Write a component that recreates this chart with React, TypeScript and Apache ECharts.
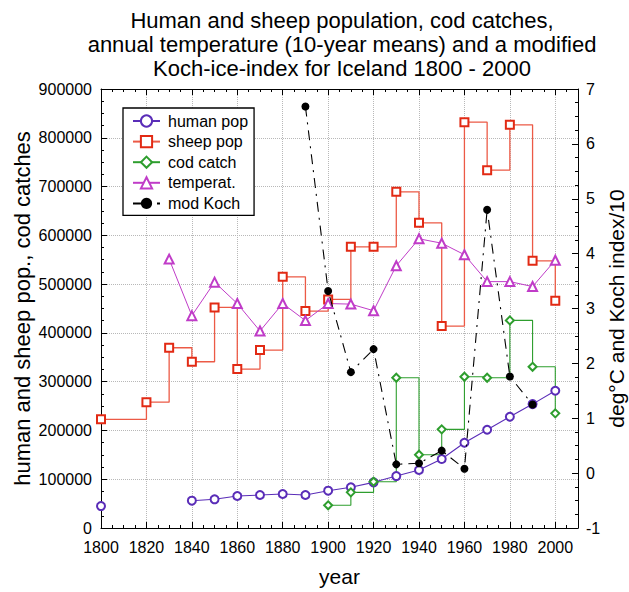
import React, { useEffect, useRef } from "react";
import * as echarts from "echarts";

const FONT = "'Liberation Sans', Arial, Helvetica, sans-serif";

const titleLines = [
  "Human and sheep population, cod catches,",
  "annual temperature (10-year means) and a modified",
  "Koch-ice-index for Iceland 1800 - 2000",
];

const decades = [1800, 1810, 1820, 1830, 1840, 1850, 1860, 1870, 1880, 1890, 1900, 1910, 1920, 1930, 1940, 1950, 1960, 1970, 1980, 1990, 2000];

const humanPop = [45000, null, null, null, 56000, 58800, 65600, 67600, 69700, 67600, 76500, 83400, 93600, 106500, 118900, 141400, 174800, 201400, 228100, 254000, 281400];

const sheepPop = [222700, null, 258000, 369500, 340800, 452200, 325800, 364800, 515000, 444700, 468600, 576400, 576400, 689200, 625600, 413900, 832000, 733600, 826500, 547700, 465800];

const codYears = [1900, 1910, 1920, 1930, 1940, 1950, 1960, 1970, 1980, 1990, 2000];
const codCatch = [46500, 73100, 94900, 308000, 150200, 202200, 310000, 308000, 425600, 330500, 235000];

const tempYears = [1830, 1840, 1850, 1860, 1870, 1880, 1890, 1900, 1910, 1920, 1930, 1940, 1950, 1960, 1970, 1980, 1990, 2000];
const temperature = [3.9, 2.87, 3.48, 3.09, 2.59, 3.09, 2.78, 3.09, 3.08, 2.96, 3.78, 4.27, 4.19, 3.98, 3.49, 3.49, 3.4, 3.88];

const kochYears = [1890, 1900, 1910, 1920, 1930, 1940, 1950, 1960, 1970, 1980, 1990];
const kochIndex = [6.68, 3.32, 1.84, 2.26, 0.16, 0.18, 0.41, 0.08, 4.8, 1.76, 1.25];

const pairs = (xs: number[], ys: (number | null)[]) => xs.map((x, i) => [x, ys[i]]);

export default function App() {
  const ref = useRef<HTMLDivElement>(null);
  useEffect(() => {
    if (!ref.current) return;
    const chart = echarts.init(ref.current, null, { renderer: "svg" });
    const axisLine = { show: true, onZero: false, lineStyle: { color: "#000", width: 1 } };
    const axisTick = { show: true, inside: true, length: 6, lineStyle: { color: "#000", width: 1 } };
    const minorTick = { show: true, splitNumber: 4, length: 3, lineStyle: { color: "#000", width: 1 } };
    const labelStyle = { color: "#000", fontSize: 16, fontFamily: FONT };
    const grid = { show: true, lineStyle: { color: "#b8b8b8", type: "dotted", width: 1 } };
    chart.setOption({
      animation: false,
      backgroundColor: "#fff",
      textStyle: { fontFamily: FONT },
      graphic: [
        {
          type: "text",
          x: 342,
          y: 8,
          z: 10,
          style: {
            text: titleLines.join("\n"),
            align: "center",
            verticalAlign: "top",
            fontSize: 22,
            lineHeight: 24,
            fontFamily: FONT,
            fill: "#000",
          },
        },
      ],
      grid: { left: 101, right: 51, top: 89, bottom: 64, containLabel: false, outerBoundsMode: "none" },
      legend: {
        orient: "vertical",
        left: 123,
        top: 108,
        padding: [5, 6, 4, 9],
        itemGap: 4.6,
        itemWidth: 27,
        itemHeight: 14,
        borderColor: "#000",
        borderWidth: 1.3,
        backgroundColor: "#fff",
        textStyle: { fontSize: 16, color: "#000", fontFamily: FONT, padding: [0, 0, 0, 3] },
        data: ["human pop", "sheep pop", "cod catch", "temperat.", "mod Koch"],
      },
      xAxis: [
        {
          type: "value",
          position: "bottom",
          min: 1800,
          max: 2010,
          interval: 20,
          axisLine,
          axisTick,
          minorTick,
          splitLine: grid,
          axisLabel: {
            ...labelStyle,
            margin: 11,
            formatter: (v: number) => (v % 20 === 0 && v <= 2000 ? String(v) : ""),
          },
          name: "year",
          nameLocation: "middle",
          nameGap: 38,
          nameMoveOverlap: false,
          nameTextStyle: { fontSize: 21, color: "#000", fontFamily: FONT },
        },
        {
          type: "value",
          position: "top",
          min: 1800,
          max: 2010,
          interval: 20,
          axisLine,
          axisTick,
          minorTick,
          splitLine: { show: false },
          axisLabel: { show: false },
        },
      ],
      yAxis: [
        {
          type: "value",
          position: "left",
          min: 0,
          max: 900000,
          interval: 100000,
          axisLine,
          axisTick,
          minorTick,
          splitLine: grid,
          axisLabel: { ...labelStyle, margin: 9, formatter: (v: number) => String(v) },
          name: "human and sheep pop., cod catches",
          nameLocation: "middle",
          nameRotate: 90,
          nameGap: 68,
          nameMoveOverlap: false,
          nameTextStyle: { fontSize: 22, color: "#000", fontFamily: FONT },
        },
        {
          type: "value",
          position: "right",
          min: -1,
          max: 7,
          interval: 1,
          axisLine,
          axisTick,
          minorTick,
          splitLine: { show: false },
          axisLabel: { ...labelStyle, margin: 8, formatter: (v: number) => String(v) },
          name: "deg°C and Koch index/10",
          nameLocation: "middle",
          nameRotate: 90,
          nameGap: 28,
          nameMoveOverlap: false,
          nameTextStyle: { fontSize: 21, color: "#000", fontFamily: FONT },
        },
      ],
      series: [
        {
          name: "human pop",
          type: "line",
          xAxisIndex: 0,
          yAxisIndex: 0,
          data: pairs(decades, humanPop),
          connectNulls: false,
          symbol: "emptyCircle",
          symbolSize: 8,
          color: "#5a2db8",
          itemStyle: { color: "#5a2db8", borderWidth: 1.2 },
          lineStyle: { color: "#5a2db8", width: 1.1 },
          z: 3,
        },
        {
          name: "sheep pop",
          type: "line",
          xAxisIndex: 0,
          yAxisIndex: 0,
          step: "end",
          data: pairs(decades, sheepPop),
          connectNulls: true,
          symbol: "emptyRect",
          symbolSize: 8,
          color: "#e22a14",
          itemStyle: { color: "#e22a14", borderWidth: 1.3 },
          lineStyle: { color: "#ec5a46", width: 1.3 },
          z: 3,
        },
        {
          name: "cod catch",
          type: "line",
          xAxisIndex: 0,
          yAxisIndex: 0,
          step: "end",
          data: pairs(codYears, codCatch),
          symbol: "emptyDiamond",
          symbolSize: 8,
          color: "#2e9e2e",
          itemStyle: { color: "#2e9e2e", borderWidth: 1.1 },
          lineStyle: { color: "#2e9e2e", width: 1.1 },
          z: 3,
        },
        {
          name: "temperat.",
          type: "line",
          xAxisIndex: 0,
          yAxisIndex: 1,
          data: pairs(tempYears, temperature),
          symbol: "emptyTriangle",
          symbolSize: 9,
          color: "#c03cc8",
          itemStyle: { color: "#c03cc8", borderWidth: 1.1 },
          lineStyle: { color: "#c03cc8", width: 1 },
          z: 3,
        },
        {
          name: "mod Koch",
          type: "line",
          xAxisIndex: 0,
          yAxisIndex: 1,
          data: pairs(kochYears, kochIndex),
          symbol: "circle",
          symbolSize: 8,
          color: "#000",
          itemStyle: { color: "#000" },
          lineStyle: { color: "#000", width: 1.1, type: [10, 6, 2, 6] },
          z: 4,
        },
      ],
    });
    return () => chart.dispose();
  }, []);
  return (
    <div
      ref={ref}
      style={{ position: "absolute", left: 0, top: 0, width: 629, height: 592 }}
    />
  );
}
